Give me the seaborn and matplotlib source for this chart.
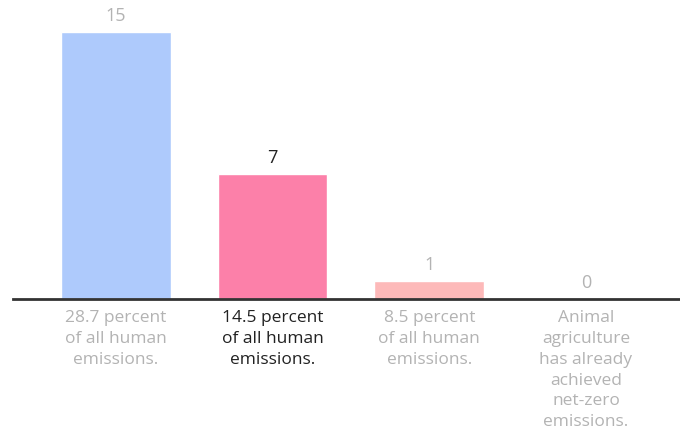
import matplotlib
matplotlib.use("Agg")
import matplotlib.pyplot as plt
import seaborn as sns
import pandas as pd

# Emissions-related values per sector
categories = [
    "28.7 percent\nof all human\nemissions.",
    "14.5 percent\nof all human\nemissions.",
    "8.5 percent\nof all human\nemissions.",
    "Animal\nagriculture\nhas already\nachieved\nnet-zero\nemissions.",
]
values = [15, 7, 1, 0]
bar_colors = ["#aecafc", "#fc80a9", "#fdb9b9", "#dddddd"]
text_colors = ["#b3b3b3", "#222222", "#b3b3b3", "#b3b3b3"]

df = pd.DataFrame({"label": categories, "value": values})

sns.set_theme(style="white")
plt.rcParams["font.family"] = ["Open Sans", "DejaVu Sans"]

fig = plt.figure(figsize=(6.8, 4.38), dpi=100)
ax = fig.add_axes([13 / 680, 139 / 438, 1 - 13 / 680, 299 / 438])

sns.barplot(data=df, x="label", y="value", hue="label", palette=bar_colors,
            width=0.70, legend=False, ax=ax, saturation=1)

ax.set_xlim(-0.657, 3.6)
ax.set_ylim(0, 16.8)

for container, col in zip(ax.containers, text_colors):
    labels = ax.bar_label(container, fmt="%d", padding=5, fontsize=13)
    for t in labels:
        t.set_color(col)

ax.set_xlabel("")
ax.set_ylabel("")
ax.set_yticks([])
ax.tick_params(axis="x", length=0, pad=8, labelsize=12.5)
for tick, col in zip(ax.get_xticklabels(), text_colors):
    tick.set_color(col)
    tick.set_linespacing(1.4)

for side in ["left", "top", "right"]:
    ax.spines[side].set_visible(False)
ax.spines["bottom"].set_color("#333333")
ax.spines["bottom"].set_linewidth(2)

fig.savefig("out.png", dpi=100, facecolor="white")
